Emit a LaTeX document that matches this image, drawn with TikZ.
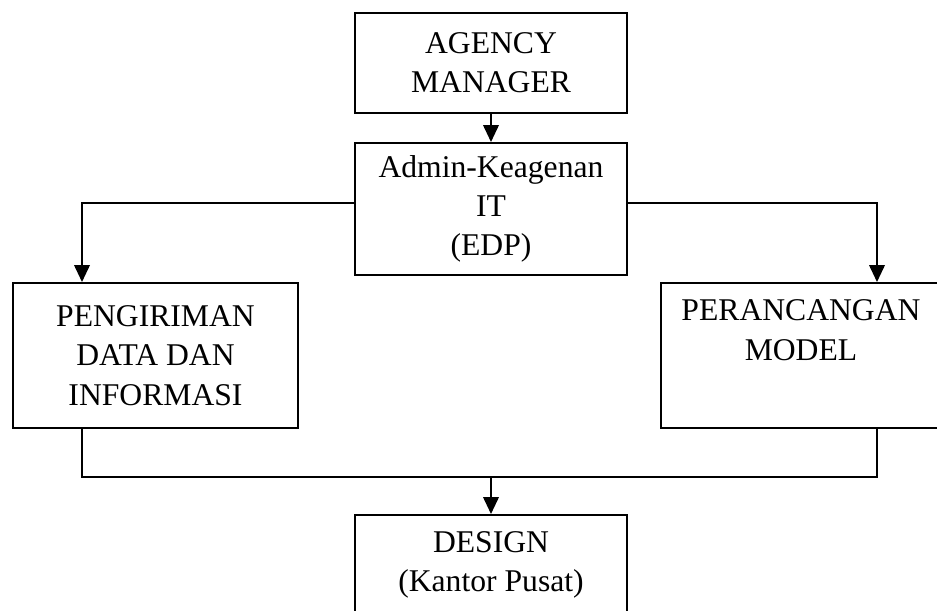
\documentclass[tikz,border=0pt]{standalone}
\usepackage{fontspec}
\setmainfont{Liberation Serif}
\usepackage{tikz}
\usetikzlibrary{positioning, calc, arrows.meta}
\newcommand{\boxfont}{\fontsize{22.5}{28}\selectfont}
\tikzset{
	arrow/.style={line width=1.4pt, -{Triangle[length=12pt, width=11pt]}},
	link/.style={line width=1.4pt},
	unit/.style={draw, line width=1.4pt, align=center, inner sep=0pt, font=\boxfont,
		minimum width=6.8cm},
}

\begin{document}
\begin{tikzpicture}
			\useasboundingbox (0,0) rectangle (23.425,-15.275);

			\node[unit, minimum height=2.5cm] (agency) at (12.275,-1.575) {AGENCY\\MANAGER};
			\node[unit, minimum height=3.3cm] (admin) at (12.275,-5.225) {Admin-Keagenan\\IT\\(EDP)};

			\node[unit, minimum width=7.125cm, minimum height=3.625cm] (kirim) at (3.8875,-8.8875) {PENGIRIMAN\\DATA DAN\\INFORMASI};
			\node[unit, minimum width=7cm, minimum height=3.625cm] (model) at (20.025,-8.8875) {PERANCANGAN\\MODEL\\\strut};

			\node[unit, minimum height=2.5cm] (design) at (12.275,-14.125) {DESIGN\\(Kantor Pusat)};

			% branch points
			\coordinate (kL) at (2.05,-5.075);
			\coordinate (kR) at (21.925,-5.075);
			\coordinate (jL) at (2.05,-11.925);
			\coordinate (jR) at (21.925,-11.925);

			\draw[arrow] (agency) -- (admin);
			\draw[arrow] (admin.west |- kL) -| (kirim.north -| kL);
			\draw[arrow] (admin.east |- kR) -| (model.north -| kR);

			\draw[link] (kirim.south -| jL) -- (jL) -- (jR) -- (model.south -| jR);
			\draw[arrow] (design.north |- jL) -- (design);
		\end{tikzpicture}
\end{document}
